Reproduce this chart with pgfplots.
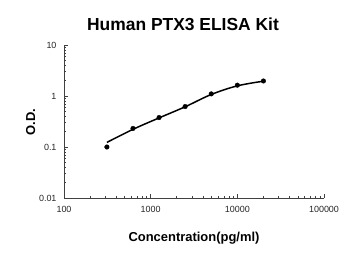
\documentclass[border=0pt]{standalone}
\usepackage{pgfplots}
\pgfplotsset{compat=1.18}
\usepackage{fontspec}
\setmainfont{Liberation Sans}
\begin{document}
\begin{tikzpicture}[x=1bp,y=1bp]
\useasboundingbox (0,0) rectangle (350,255);
\begin{axis}[
  at={(64bp,57bp)}, anchor=south west,
  scale only axis, width=260bp, height=153bp,
  xmode=log, ymode=log,
  xmin=100, xmax=100000, ymin=0.01, ymax=10,
  axis x line*=bottom, axis y line*=left,
  axis line style={line width=0.8pt, color=black!75},
  tick align=inside,
  major tick length=4bp, minor tick length=2.5bp,
  tick style={color=black!75, line width=0.6pt},
  xtick={100,1000,10000,100000},
  xticklabels={100,1000,10000,100000},
  ytick={0.01,0.1,1,10},
  yticklabels={0.01,0.1,1,10},
  ticklabel style={font=\fontsize{9}{10}\selectfont, text=black!85},
  xticklabel style={yshift=-5bp},
  yticklabel style={xshift=-4bp},
  clip=false,
]
\addplot[black, line width=1.5pt, smooth, tension=0.6] coordinates {
  (312.5,0.123) (625,0.222) (1250,0.372) (2500,0.615) (5000,1.07) (10000,1.58) (20000,1.95)
};
\addplot[only marks, mark=*, mark size=2.3pt, black] coordinates {
  (312.5,0.100) (625,0.231) (1250,0.378) (2500,0.621) (5000,1.10) (10000,1.63) (20000,1.97)
};
\end{axis}
\node[anchor=base, font=\fontsize{17.5}{20}\bfseries\selectfont] at (183,225) {Human PTX3 ELISA Kit};
\node[anchor=base, font=\fontsize{13}{15}\bfseries\selectfont] at (194,13.5) {Concentration(pg/ml)};
\node[anchor=base, rotate=90, font=\fontsize{13}{15}\bfseries\selectfont] at (35,133) {O.D.};
\end{tikzpicture}
\end{document}
